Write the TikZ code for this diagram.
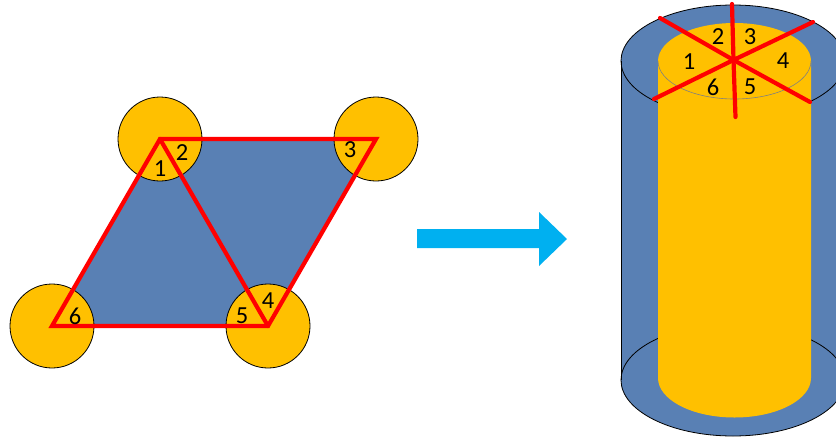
\documentclass[tikz,border=0pt]{standalone}
\usepackage{fontspec}
\setmainfont{Carlito}
\definecolor{bluefill}{HTML}{5980B4}
\definecolor{yel}{HTML}{FFC000}
\definecolor{arrowblue}{HTML}{00B0F0}
\tikzset{
  disc/.style={draw=black,line width=0.8pt,fill=yel},
  redline/.style={draw=red,line width=4.2pt,line join=miter,line cap=round},
  num/.style={font=\fontsize{24.5}{24.5}\selectfont,inner sep=0pt,text=black},
}
\begin{document}
\begin{tikzpicture}[x=1pt,y=-1pt]
\useasboundingbox (0,0) rectangle (836,437);
\clip (0,0) rectangle (836,437);
% parallelogram
\coordinate (A) at (160,139);
\coordinate (B) at (376,139);
\coordinate (C) at (268,326);
\coordinate (D) at (52,326);
\fill[bluefill] (A) -- (B) -- (C) -- (D) -- cycle;
\foreach \p in {A,B,C,D} \path[disc] (\p) circle[radius=42];
\draw[redline] (A) -- (B) -- (C) -- (D) -- cycle;
\draw[redline] (A) -- (C);
\node[num] (l1) at (160,169) {1};
\node[num] (l2) at (182,153) {2};
\node[num] (l3) at (350,150) {3};
\node[num] (l4) at (268,301) {4};
\node[num] (l5) at (242,316) {5};
\node[num] (l6) at (75,316) {6};
% arrow
\fill[arrowblue] (417,229) -- (539,229) -- (539,212) -- (567,239) -- (539,266) -- (539,248) -- (417,248) -- cycle;
% cylinder
\fill[bluefill] (621,61) arc[start angle=180,end angle=360,x radius=112,y radius=56] -- (845,380) arc[start angle=0,end angle=180,x radius=112,y radius=56] -- cycle;
\draw[black,line width=0.8pt] (733,61) ellipse[x radius=112,y radius=56];
\draw[black,line width=0.8pt] (621,61) -- (621,380);
\draw[black,line width=0.8pt] (733,380) ellipse[x radius=112,y radius=56];
\fill[yel] (658,61) arc[start angle=180,end angle=360,x radius=76.5,y radius=38] -- (811,378) arc[start angle=0,end angle=180,x radius=76.5,y radius=39.5] -- cycle;
\draw[black!50,line width=0.6pt] (658,61) arc[start angle=180,end angle=0,x radius=76.5,y radius=38];
\coordinate (O) at (733.5,60);
\coordinate (s1) at (660,18);
\coordinate (s2) at (732,4);
\coordinate (s3) at (813,22);
\coordinate (s4) at (810,102);
\coordinate (s5) at (735.5,117);
\coordinate (s6) at (654,99);
\foreach \s in {s1,s2,s3,s4,s5,s6} \draw[redline] (O) -- (\s);
\node[num] (r1) at (689,62) {1};
\node[num] (r2) at (718,37) {2};
\node[num] (r3) at (750,37) {3};
\node[num] (r4) at (783,61) {4};
\node[num] (r5) at (750,87) {5};
\node[num] (r6) at (713,87) {6};
\end{tikzpicture}
\end{document}
